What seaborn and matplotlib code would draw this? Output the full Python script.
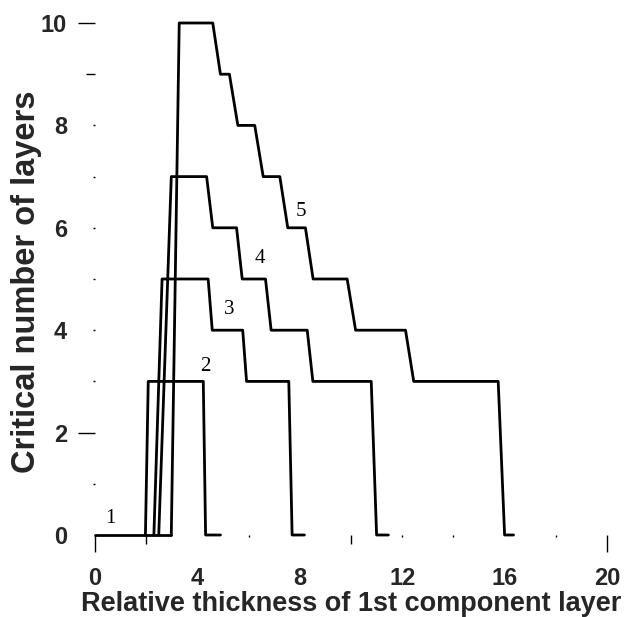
import matplotlib
matplotlib.use("Agg")
import matplotlib.pyplot as plt
import seaborn as sns
import pandas as pd

# ---- data ----
curve1_x = [0.0, 2.98]
curve1_y = [0, 0]
curve2_x = [1.97, 2.08, 4.23, 4.32, 4.90]
curve2_y = [0, 3, 3, 0, 0]
curve3_x = [2.30, 2.62, 4.42, 4.58, 5.77, 5.92, 7.57, 7.70, 8.18]
curve3_y = [0, 5, 5, 4, 4, 3, 3, 0, 0]
curve4_x = [2.49, 2.98, 4.36, 4.60, 5.53, 5.75, 6.66, 6.88, 8.29, 8.51, 10.79, 11.00, 11.46]
curve4_y = [0, 7, 7, 6, 6, 5, 5, 4, 4, 3, 3, 0, 0]
curve5_x = [2.98, 3.29, 4.60, 4.90, 5.25, 5.58, 6.24, 6.57, 7.22, 7.53, 8.22, 8.52,
            9.85, 10.18, 12.13, 12.45, 15.75, 16.00, 16.35]
curve5_y = [0, 10, 10, 9, 9, 8, 8, 7, 7, 6, 6, 5, 5, 4, 4, 3, 3, 0, 0]

curve_names = ["1", "2", "3", "4", "5"]
label_x = [0.60, 4.32, 5.25, 6.44, 8.03]
label_y = [0.33, 3.29, 4.40, 5.40, 6.32]

x_ticks = [0, 4, 8, 12, 16, 20]
x_minor = [2, 6, 10, 14, 18]
y_ticks = [0, 2, 4, 6, 8, 10]
y_minor = [1, 3, 5, 7, 9]
x_label = "Relative thickness of 1st component layer"
y_label = "Critical number of layers"

# visible tick-mark lengths (in points) as they appear in the scanned original
x_major_len = [12, 0, 0, 1.5, 0, 12]
x_minor_len = [6.5, 1.5, 6.5, 1.5, 1.5]
y_major_len = [0, 12, 1.5, 1.5, 1.5, 12]
y_minor_len = [1.5, 1.5, 1.5, 1.5, 6.5]

rows = []
for name, xs, ys in zip(curve_names,
                        [curve1_x, curve2_x, curve3_x, curve4_x, curve5_x],
                        [curve1_y, curve2_y, curve3_y, curve4_y, curve5_y]):
    for i, (xv, yv) in enumerate(zip(xs, ys)):
        rows.append({"curve": name, "order": i, "x": xv, "y": yv})
df = pd.DataFrame(rows)

sns.set_style("white")
plt.rcParams["font.family"] = ["Liberation Sans", "DejaVu Sans"]

fig = plt.figure(figsize=(6.30, 6.17), dpi=100)
ax = fig.add_axes([95 / 630, 1 - 535 / 617, (607 - 95) / 630, (535 - 23) / 617])

sns.lineplot(data=df, x="x", y="y", units="curve", estimator=None, sort=False,
             color="black", linewidth=2.0, ax=ax, legend=False)
for line in ax.lines:
    line.set_clip_on(False)

for name, lx, ly in zip(curve_names, label_x, label_y):
    ax.text(lx, ly, name, family="Liberation Serif", fontsize=15,
            ha="center", va="center", color="black")

ax.set_xlim(0, 20)
ax.set_ylim(0, 10)
for s in ax.spines.values():
    s.set_visible(False)

ax.set_xticks(x_ticks)
ax.set_yticks(y_ticks)
ax.set_xticks(x_minor, minor=True)
ax.set_yticks(y_minor, minor=True)
ax.tick_params(axis="both", which="both", bottom=True, left=True,
               direction="out", width=1, color="black")
ax.tick_params(axis="x", which="major", length=12, labelsize=17, pad=11)
ax.tick_params(axis="y", which="major", length=12, labelsize=17, pad=8)
ax.tick_params(axis="both", which="minor", length=6.5)

for tick, L in zip(ax.xaxis.get_major_ticks(), x_major_len):
    tick.tick1line.set_markersize(L)
for tick, L in zip(ax.xaxis.get_minor_ticks(), x_minor_len):
    tick.tick1line.set_markersize(L)
for tick, L in zip(ax.yaxis.get_major_ticks(), y_major_len):
    tick.tick1line.set_markersize(L)
for tick, L in zip(ax.yaxis.get_minor_ticks(), y_minor_len):
    tick.tick1line.set_markersize(L)

for t in ax.get_xticklabels() + ax.get_yticklabels():
    t.set_fontweight("bold")

ax.set_xlabel(x_label, fontsize=19.5, fontweight="bold", labelpad=1)
ax.set_ylabel(y_label, fontsize=23.5, fontweight="bold")
ax.yaxis.set_label_coords(-0.103, 0.494)

fig.savefig("out.png", dpi=100, facecolor="white")
